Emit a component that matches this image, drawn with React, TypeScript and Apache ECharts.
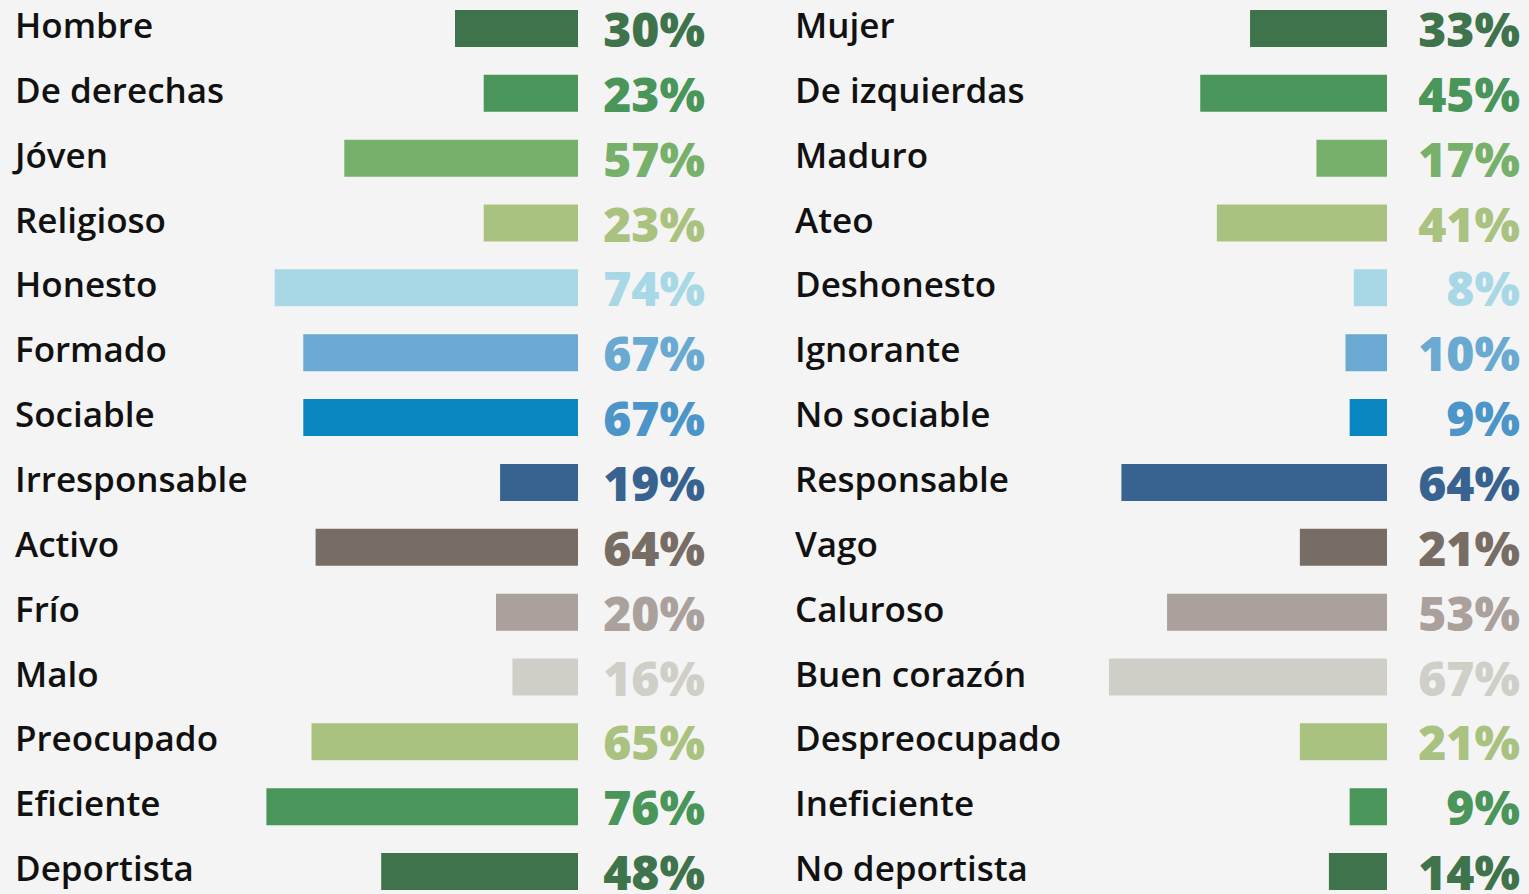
import React, { useEffect, useRef } from "react";
import * as echarts from "echarts";

const leftLabels = ["Hombre", "De derechas", "Jóven", "Religioso", "Honesto", "Formado", "Sociable", "Irresponsable", "Activo", "Frío", "Malo", "Preocupado", "Eficiente", "Deportista"];
const leftValues = [30, 23, 57, 23, 74, 67, 67, 19, 64, 20, 16, 65, 76, 48];
const rightLabels = ["Mujer", "De izquierdas", "Maduro", "Ateo", "Deshonesto", "Ignorante", "No sociable", "Responsable", "Vago", "Caluroso", "Buen corazón", "Despreocupado", "Ineficiente", "No deportista"];
const rightValues = [33, 45, 17, 41, 8, 10, 9, 64, 21, 53, 67, 21, 9, 14];
const barColors = ["#3e734b", "#4a955a", "#77b06b", "#a9c27f", "#a8d8e6", "#6aa9d1", "#0a87c0", "#386290", "#776d64", "#aaa09c", "#cfcfc8", "#a9c27f", "#4a955a", "#3e734b"];
const textColors = ["#3e734b", "#4a955a", "#77b06b", "#a9c27f", "#a8d8e6", "#6aa9d1", "#4c95c9", "#386290", "#776d64", "#aaa09c", "#cfcfc8", "#a9c27f", "#4a955a", "#3e734b"];

const LABEL_FONT = { fontFamily: "'Open Sans', sans-serif", fontWeight: 600, fontSize: 35, color: "#111111" };
const PCT_FONT = { fontFamily: "'Open Sans', sans-serif", fontWeight: 800, fontSize: 48 };

export default function App() {
  const ref = useRef<HTMLDivElement>(null);
  useEffect(() => {
    document.body.style.margin = "0";
    document.body.style.overflow = "hidden";
    const chart = echarts.init(ref.current!, null, { renderer: "svg" });
    const top = 0;
    const height = 908;
    const mkGrid = (left: number, width: number) => ({ left, width, top, height });
    const catAxis = (gridIndex: number, labels: string[], margin: number) => ({
      type: "category",
      gridIndex,
      inverse: true,
      data: labels,
      position: "left",
      axisLine: { show: false, onZero: false },
      axisTick: { show: false },
      axisLabel: { ...LABEL_FONT, align: "left", margin, interval: 0, hideOverlap: false, verticalAlign: "bottom", lineHeight: 8 },
    });
    const rich: Record<string, any> = {};
    textColors.forEach((c, i) => {
      rich["c" + i] = { ...PCT_FONT, color: c, lineHeight: 34 };
    });
    const pctAxis = (gridIndex: number, labels: string[], values: number[], margin: number) => ({
      type: "category",
      gridIndex,
      inverse: true,
      data: labels,
      position: "right",
      axisLine: { show: false, onZero: false },
      axisTick: { show: false },
      axisLabel: {
        ...PCT_FONT,
        lineHeight: 34,
        align: "right",
        margin,
        interval: 0,
        hideOverlap: false,
        formatter: (v: string) => {
          const i = labels.indexOf(v);
          return "{c" + i + "|" + values[i] + "%}";
        },
        rich,
      },
    });
    const valAxis = (gridIndex: number) => ({
      type: "value",
      gridIndex,
      min: 0,
      max: 100,
      inverse: true,
      show: false,
      splitLine: { show: false },
    });
    const mkData = (values: number[]) => values.map((v, i) => ({ value: v, itemStyle: { color: barColors[i] } }));
    chart.setOption({
      animation: false,
      backgroundColor: "#f4f4f4",
      grid: [mkGrid(168, 410), mkGrid(972, 415)],
      xAxis: [valAxis(0), valAxis(1)],
      yAxis: [
        catAxis(0, leftLabels, 153),
        pctAxis(0, leftLabels, leftValues, 127),
        catAxis(1, rightLabels, 177),
        pctAxis(1, rightLabels, rightValues, 133),
      ],
      series: [
        { type: "bar", xAxisIndex: 0, yAxisIndex: 0, barWidth: 37, data: mkData(leftValues) },
        { type: "bar", xAxisIndex: 1, yAxisIndex: 2, barWidth: 37, data: mkData(rightValues) },
      ],
    });
    return () => chart.dispose();
  }, []);
  return <div ref={ref} style={{ position: "absolute", left: 0, top: -4, width: 1529, height: 912 }} />;
}
